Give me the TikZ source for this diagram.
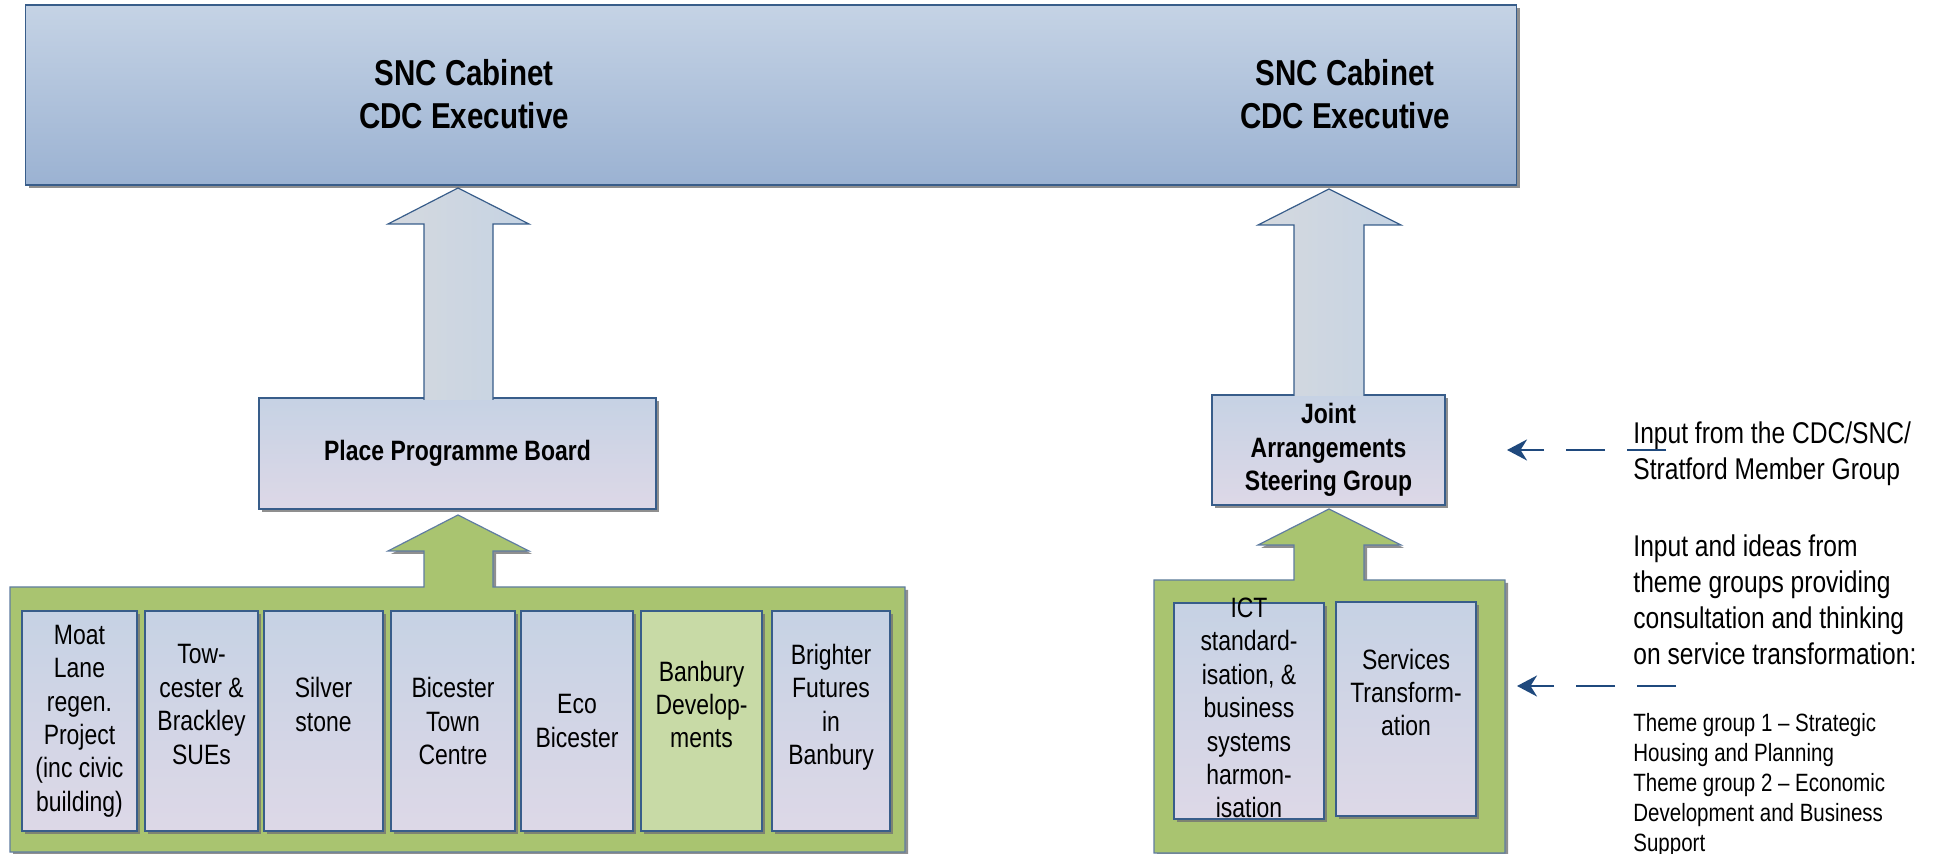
\documentclass[tikz,border=0pt]{standalone}
\usepackage{fontspec}
\setmainfont{Liberation Sans}[FakeStretch=0.82]
\usetikzlibrary{arrows.meta,shadows}

\definecolor{cabtop}{RGB}{197,211,229}
\definecolor{cabbot}{RGB}{155,178,210}
\definecolor{boxtop}{RGB}{198,210,228}
\definecolor{boxbot}{RGB}{221,216,231}
\definecolor{arrleft}{RGB}{213,217,223}
\definecolor{arrright}{RGB}{197,211,227}
\definecolor{leaf}{RGB}{169,196,112}
\definecolor{paleleaf}{RGB}{200,218,166}
\definecolor{rim}{RGB}{56,93,138}
\definecolor{inkblue}{RGB}{31,73,125}

\begin{document}
\begin{tikzpicture}[x=0.5pt,y=-0.5pt]
  \tikzset{
    shade/.style={drop shadow={shadow xshift=1.5pt,shadow yshift=-1.5pt,
          fill=black!55,opacity=0.8}},
    cabinet/.style={draw=rim,line width=0.6pt,top color=cabtop,bottom color=cabbot,
          shade,minimum width=745.5pt,minimum height=90pt},
    cabtext/.style={align=center,inner sep=0pt,
          font=\bfseries\fontsize{18}{21.5}\selectfont},
    board/.style={draw=rim,line width=0.6pt,top color=boxtop,bottom color=boxbot,
          shade,align=center,inner sep=0pt,
          font=\bfseries\fontsize{14}{16.7}\selectfont},
    project/.style={draw=rim,line width=0.6pt,top color=boxtop,bottom color=boxbot,
          shade,align=center,inner sep=0pt,minimum height=110pt,
          font=\fontsize{14}{16.7}\selectfont},
    bigarrow/.style={draw=rim,line width=0.6pt,left color=arrleft,right color=arrright},
    tray/.style={draw=rim!80!white,line width=0.6pt,fill=leaf,shade},
    note/.style={align=left,anchor=west,inner sep=0pt,
          font=\fontsize{15}{18}\selectfont},
    smallnote/.style={align=left,anchor=west,inner sep=0pt,
          font=\fontsize{12.5}{15}\selectfont},
    feed/.style={draw=inkblue,line width=1.3pt,dash pattern=on 19.5pt off 11pt,
          -{Stealth[length=10pt,width=10.5pt]}}
  }
  \useasboundingbox (0,0) rectangle (1942,854);

  % top level
  \node[cabinet] (cab) at (771,95) {};
  \node[cabtext] (cabL) at (464,94) {SNC Cabinet\\CDC Executive};
  \node[cabtext] (cabR) at (1345,94) {SNC Cabinet\\CDC Executive};

  % boards
  \node[board,minimum width=198.5pt,minimum height=55.5pt] (ppb) at (457.5,453.5)
       {Place Programme Board};
  \node[board,minimum width=116.5pt,minimum height=55pt] (jasg) at (1328.5,450)
       {Joint\\Arrangements\\Steering Group};

  % arrows up to the cabinet
  \path[bigarrow] (424,400) -- (424,224) -- (388,224) -- (458,188)
       -- (529,224) -- (493,224) -- (493,400);
  \path[bigarrow] (1294,396) -- (1294,225) -- (1258,225) -- (1329,189)
       -- (1401,225) -- (1364,225) -- (1364,396);

  % green trays with their arrows
  \draw[tray] (10,587) -- (424,587) -- (424,551) -- (388,551) -- (458,515)
       -- (529,551) -- (493,551) -- (493,587) -- (905,587) -- (905,852)
       -- (10,852) -- cycle;
  \draw[tray] (1154,580) -- (1294,580) -- (1294,545) -- (1258,545) -- (1329,509)
       -- (1401,545) -- (1364,545) -- (1364,580) -- (1505,580) -- (1505,853)
       -- (1154,853) -- cycle;

  % place projects
  \node[project,minimum width=57.5pt] (moat) at (79.5,721)
       {Moat\\Lane\\regen.\\Project\\(inc civic\\building)};
  \node[project,minimum width=56.5pt] (sues) at (201.5,721)
       {Tow-\\cester \&\\Brackley\\SUEs\\\mbox{}};
  \node[project,minimum width=59.5pt] (silver) at (323.5,721)
       {Silver\\stone\\\mbox{}};
  \node[project,minimum width=62pt] (btc) at (453,721)
       {Bicester\\Town\\Centre};
  \node[project,minimum width=56pt] (eco) at (577,721)
       {Eco\\Bicester};
  \node[project,minimum width=60.5pt,top color=paleleaf,bottom color=paleleaf] (bandev) at (701.5,721)
       {Banbury\\Develop-\\ments\\\mbox{}};
  \node[project,minimum width=59pt] (bright) at (831,721)
       {Brighter\\Futures\\in\\Banbury\\\mbox{}};

  % joint workstreams
  \node[project,minimum width=75pt,minimum height=108pt] (ict) at (1249,711) {};
  \node[align=center,inner sep=0pt,font=\fontsize{14}{16.7}\selectfont] (icttext) at (1249,708)
       {ICT\\standard-\\isation, \&\\business\\systems\\harmon-\\isation};
  \node[project,minimum width=70pt,minimum height=107pt] (serv) at (1406,709)
       {Services\\Transform-\\ation\\\mbox{}};

  % inputs
  \node[note] (member) at (1633,454) {Input from the CDC/SNC/\\Stratford Member Group};
  \node[note] (ideas) at (1633,600)
       {Input and ideas from\\theme groups providing\\consultation and thinking\\on service transformation:};
  \node[smallnote] (themes) at (1633,785)
       {Theme group 1 -- Strategic\\Housing and Planning\\Theme group 2 -- Economic\\Development and Business\\Support};

  \coordinate (memberfrom) at (1666,450);
  \coordinate (memberto) at (1507,450);
  \coordinate (ideasfrom) at (1676,686);
  \coordinate (ideasto) at (1517,686);
  \draw[feed] (memberfrom) -- (memberto);
  \draw[feed] (ideasfrom) -- (ideasto);
\end{tikzpicture}
\end{document}
